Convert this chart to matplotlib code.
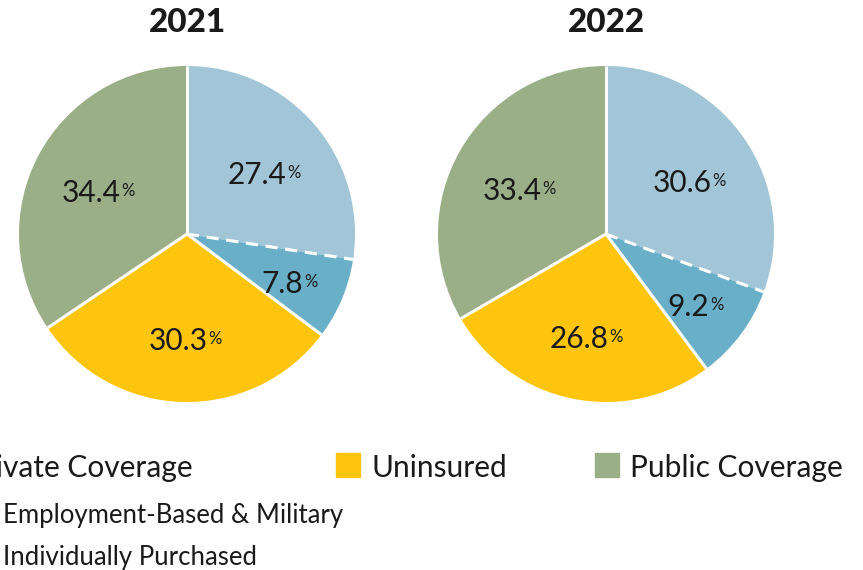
import numpy as np
import matplotlib
matplotlib.use("Agg")
import matplotlib.pyplot as plt
from matplotlib.patches import Rectangle

plt.rcParams['font.family'] = ['Lato', 'DejaVu Sans']

# coverage shares by year, clockwise from 12 o'clock
years = ["2021", "2022"]
categories = ["Employment-Based & Military", "Individually Purchased",
              "Uninsured", "Public Coverage"]
shares = {
    "2021": [27.4, 7.8, 30.3, 34.4],
    "2022": [30.6, 9.2, 26.8, 33.4],
}
colors = ["#a2c6d7", "#6aafc8", "#fec50f", "#9aaf87"]
text_color = "#1a1a1a"

W, H = 863, 570
fig = plt.figure(figsize=(W / 100, H / 100), dpi=100)


def px_axes(cx, cy, r):
    # square axes around a pie centre given in pixels (y measured from top)
    return fig.add_axes([(cx - r) / W, (H - cy - r) / H, 2 * r / W, 2 * r / H])


centres = [(187, 234), (606, 234)]
radius = 168
number_texts = []

for year, (cx, cy) in zip(years, centres):
    ax = px_axes(cx, cy, radius)
    vals = np.array(shares[year])
    ax.pie(vals, colors=colors, startangle=90, counterclock=False,
           radius=1, wedgeprops=dict(linewidth=0))
    ax.set_xlim(-1, 1)
    ax.set_ylim(-1, 1)
    ax.set_aspect("equal")
    ax.axis("off")

    # slice boundaries: dashed between the two private-coverage slices
    frac = np.concatenate([[0], np.cumsum(vals) / vals.sum()])
    for i, f in enumerate(frac[:-1]):
        ang = np.deg2rad(90 - 360 * f)
        ls = (0, (4, 2.5)) if i == 1 else "-"
        ax.plot([0, np.cos(ang)], [0, np.sin(ang)], color="white",
                lw=2.2, ls=ls, solid_capstyle="butt", zorder=3)

    # value labels
    for i, v in enumerate(vals):
        mid = np.deg2rad(90 - 360 * (frac[i] + frac[i + 1]) / 2)
        rl = 0.66 if v < 15 else 0.6
        t = ax.text(rl * np.cos(mid) - 0.04, rl * np.sin(mid) - 0.04,
                    f"{v:.1f}", ha="center", va="center", fontsize=21.5,
                    color=text_color, zorder=4)
        number_texts.append((ax, t))

    fig.text(cx / W, 1 - 22 / H, year, ha="center", va="center",
             fontsize=24, fontweight="black", color=text_color)

# small raised percent sign after each value
fig.canvas.draw()
renderer = fig.canvas.get_renderer()
for ax, t in number_texts:
    bb = t.get_window_extent(renderer)
    fig.text((bb.x1 + 1) / W, (bb.y1 - 4) / H, "%", ha="left", va="top",
             fontsize=12, color=text_color)

# legend
def swatch(x, y, color):
    fig.patches.append(Rectangle((x / W, 1 - (y + 24) / H), 24 / W, 24 / H,
                                 transform=fig.transFigure, color=color))

swatch(336, 453, colors[2])
swatch(595, 453, colors[3])
fig.text(-33 / W, 1 - 468 / H, "Private Coverage", ha="left", va="center",
         fontsize=21.5, color=text_color)
fig.text(371 / W, 1 - 468 / H, categories[2], ha="left", va="center",
         fontsize=21.5, color=text_color)
fig.text(630 / W, 1 - 468 / H, categories[3], ha="left", va="center",
         fontsize=21.5, color=text_color)
fig.text(3 / W, 1 - 516 / H, categories[0], ha="left", va="center",
         fontsize=18.5, color=text_color)
fig.text(3 / W, 1 - 558 / H, categories[1], ha="left", va="center",
         fontsize=18.5, color=text_color)

fig.savefig("out.png", dpi=100)
